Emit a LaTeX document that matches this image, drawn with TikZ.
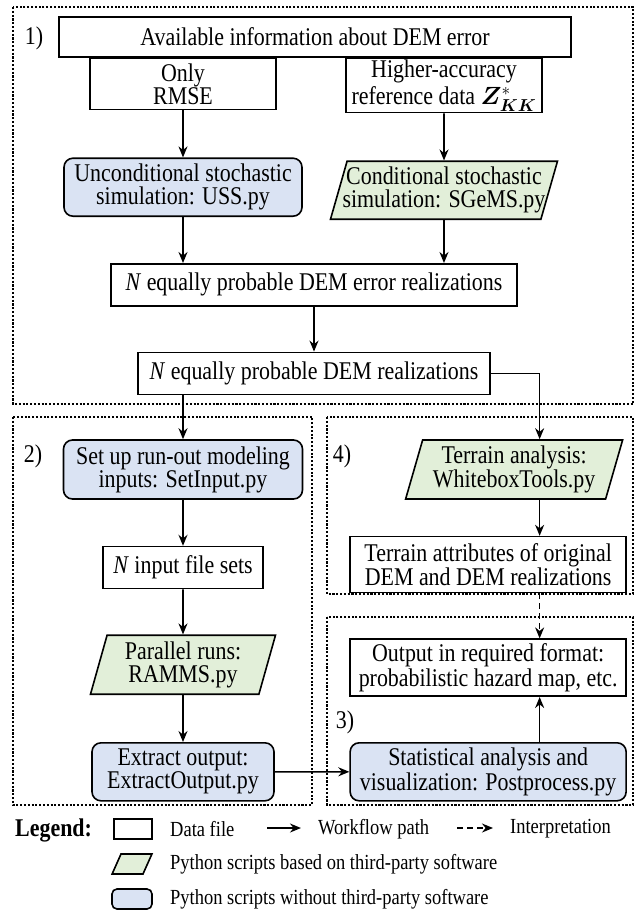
\documentclass[tikz,border=0pt]{standalone}
\usepackage{amsmath,amssymb,bm}
\usepackage{fontspec}
\setmainfont[FakeStretch=0.86]{Liberation Serif}
\usepackage{xcolor}
\usepackage{tikz}
\usetikzlibrary{shapes,arrows.meta,positioning,calc}

\definecolor{thirdgreen}{HTML}{E2EFD9}
\definecolor{ownblue}{HTML}{DAE3F3}

\begin{document}
\begin{tikzpicture}[
    x=1pt, y=-1pt,
    font=\fontsize{25.5}{23}\selectfont,
    datafile/.style={rectangle, draw, line width=1.6pt, fill=white, align=center, inner sep=1pt},
    thirdparty/.style={trapezium, trapezium left angle=71, trapezium right angle=109, trapezium stretches body, draw, line width=1.6pt, fill=thirdgreen, align=center, inner xsep=-6pt, inner ysep=1pt},
    ownscript/.style={rectangle, draw, line width=1.6pt, fill=ownblue, align=center, rounded corners=9pt, inner sep=1pt},
    arrow/.style={line width=1.6pt, -{Stealth[length=11pt,width=9pt]}},
    interp/.style={arrow, dash pattern=on 6pt off 4pt},
    part/.style={line width=2.3pt, dash pattern=on 2.1pt off 1.7pt},
    keytext/.style={font=\fontsize{21.5}{22}\selectfont, anchor=west, inner sep=0pt}
]
\useasboundingbox (0,0) rectangle (637,911);

% 1) DEM error realizations
\node[datafile, minimum width=512pt, minimum height=40pt] (info) at (315,37) {Available information about DEM error};
\node[datafile, minimum width=186pt, minimum height=51pt, below right=0pt and 31pt of info.south west] (rmse) {Only\\RMSE};
\node[datafile, minimum width=196pt, minimum height=51pt, below left=0pt and 29pt of info.south east] (refdata) {Higher-accuracy\\[3pt]reference data $\bm{Z}^{*}_{\bm{KK}}$};
\node[ownscript, minimum width=238pt, minimum height=58pt, below=47pt of rmse] (uss) {Unconditional stochastic\\simulation: USS.py};
\node[thirdparty, minimum width=227pt, minimum height=58pt, below=47pt of refdata] (sgems) {Conditional stochastic\\simulation: SGeMS.py};
\node[datafile, minimum width=406pt, minimum height=42pt, below=46pt of uss, xshift=131pt] (errreal) {\textit{N} equally probable DEM error realizations};
\node[datafile, minimum width=352pt, minimum height=42pt, below=45pt of errreal] (demreal) {\textit{N} equally probable DEM realizations};

% 2) run-out modeling
\node[ownscript, minimum width=239pt, minimum height=59pt, below=44pt of demreal.south -| uss.south] (setinput) {Set up run-out modeling\\inputs: SetInput.py};
\node[datafile, minimum width=160pt, minimum height=42pt, below=46pt of setinput] (inputs) {\textit{N} input file sets};
\node[thirdparty, minimum width=185pt, minimum height=59pt, below=45pt of inputs] (ramms) {Parallel runs:\\RAMMS.py};
\node[ownscript, minimum width=182pt, minimum height=58pt, below=47pt of ramms] (extract) {Extract output:\\ExtractOutput.py};

% 4) terrain analysis
\node[thirdparty, minimum width=217pt, minimum height=59pt, right=110pt of setinput] (terrain) {Terrain analysis:\\WhiteboxTools.py};
\coordinate (lane) at ($(terrain.north)+(25.5pt,0)$);
\node[datafile, minimum width=276pt, minimum height=56pt, below=36pt of terrain, xshift=-26pt] (attrib) {Terrain attributes of original\\DEM and DEM realizations};

% 3) post-processing
\node[datafile, minimum width=276pt, minimum height=57pt, below=45pt of attrib] (output) {Output in required format:\\probabilistic hazard map, etc.};
\node[ownscript, minimum width=276pt, minimum height=58pt, below=45pt of output] (postproc) {Statistical analysis and\\visualization: Postprocess.py};

% Arrows
\draw[arrow] (rmse) -- (uss);
\draw[arrow] (refdata) -- (sgems);
\draw[arrow] (uss) -- (uss |- errreal.north);
\draw[arrow] (sgems) -- (sgems |- errreal.north);
\draw[arrow] (errreal) -- (demreal);
\draw[arrow] (demreal.south -| setinput) -- (setinput);
\draw[arrow] (demreal) -| (lane);
\draw[arrow] (setinput) -- (inputs);
\draw[arrow] (inputs) -- (ramms);
\draw[arrow] (ramms) -- (extract);
\draw[arrow] (extract) -- (postproc);
\draw[arrow] (lane |- terrain.south) -- (lane |- attrib.north);
\draw[interp] (lane |- attrib.south) -- (lane |- output.north);
\draw[arrow] (lane |- postproc.north) -- (lane |- output.south);

% Parts (dotted frames)
\draw[part] (13,7) rectangle (633,404);
\draw[part] (13,417) rectangle (312,805);
\draw[part] (327,417) rectangle (633,594);
\draw[part] (327,617) rectangle (633,805);
\node[inner sep=0pt] (part1) at (34,38) {1)};
\node[inner sep=0pt] (part2) at (33,456) {2)};
\node[inner sep=0pt] (part4) at (342,456) {4)};
\node[inner sep=0pt] (part3) at (345,722) {3)};

% Legend
\node[font=\fontsize{25.5}{26}\selectfont\bfseries, anchor=west, inner sep=0pt] (legend) at (15,830) {Legend:};
\node[datafile, minimum width=38pt, minimum height=20pt, inner sep=0pt] (keydata) at (133,829) {};
\node[keytext] (keydatatext) at (170,829) {Data file};
\coordinate (keyflowa) at (267,828);
\coordinate (keyflowb) at (301,828);
\draw[arrow] (keyflowa) -- (keyflowb);
\node[keytext] (keyflowtext) at (318,829) {Workflow path};
\coordinate (keyinterpa) at (457,828);
\coordinate (keyinterpb) at (493,828);
\draw[interp] (keyinterpa) -- (keyinterpb);
\node[keytext] (keyinterptext) at (510,829) {Interpretation};
\node[thirdparty, inner xsep=11pt, inner ysep=10pt, trapezium left angle=66, trapezium right angle=114] (keythird) at (132,864) {};
\node[keytext] (keythirdtext) at (170,864) {Python scripts based on third-party software};
\node[ownscript, minimum width=40pt, minimum height=20pt, inner sep=0pt, rounded corners=5pt] (keyown) at (132,899) {};
\node[keytext] (keyowntext) at (170,899) {Python scripts without third-party software};

\end{tikzpicture}
\end{document}
